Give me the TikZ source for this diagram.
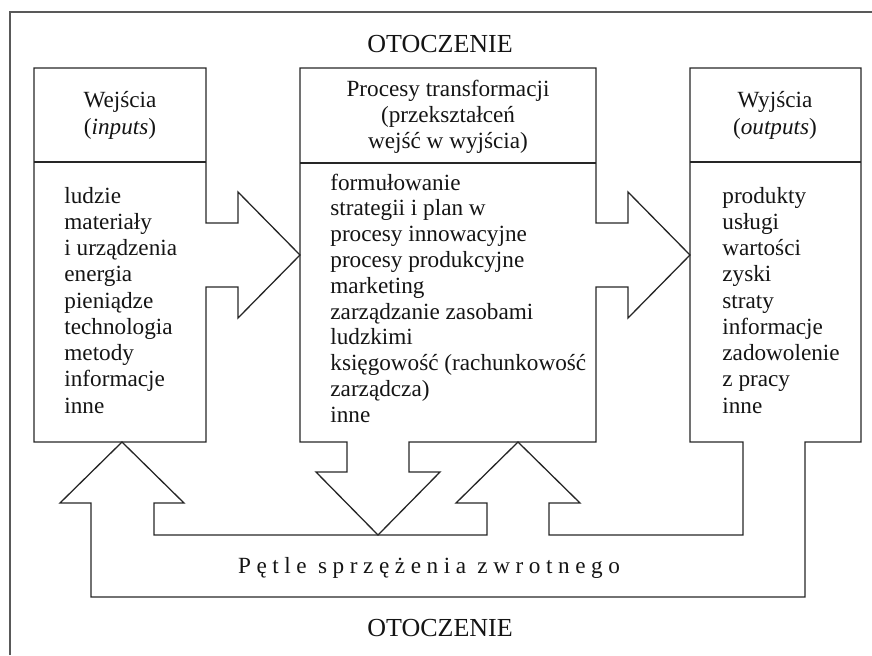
\documentclass[tikz,border=0pt]{standalone}
\usepackage{fontspec}
\setmainfont{Liberation Serif}
\begin{document}
\begin{tikzpicture}[x=0.5pt,y=-0.5pt,
  outline/.style={draw=black!85, line width=0.65pt, line join=miter},
  frame/.style={draw=black!65, line width=1pt},
  txt/.style={inner sep=0pt, text=black!92, font=\fontsize{11.6}{13}\selectfont},
  title/.style={inner sep=0pt, text=black!92, font=\fontsize{13}{15}\selectfont}]
\useasboundingbox (0,0) rectangle (872,655);

% environment frame (open to the right and below)
\draw[frame] (10,655) -- (10,12) -- (872,12);

% inputs box with its arrow into the process box
\draw[outline] (34,68) -- (206,68) -- (206,223) -- (238,223) -- (238,192)
  -- (300,255) -- (238,318) -- (238,287) -- (206,287) -- (206,442)
  -- (34,442) -- cycle;
\draw[outline] (34,162) -- (206,162);

% process box with its arrows to the outputs and down to the loop
\draw[outline] (300,68) -- (596,68) -- (596,223) -- (628,223) -- (628,192)
  -- (690,255) -- (628,318) -- (628,287) -- (596,287) -- (596,442)
  -- (409,442) -- (409,472) -- (440,472) -- (378,535) -- (316,472)
  -- (347,472) -- (347,442) -- (300,442) -- cycle;
\draw[outline] (300,163) -- (596,163);

% outputs box joined to the feedback ribbon
\draw[outline] (743,442) -- (690,442) -- (690,68) -- (861,68) -- (861,442)
  -- (805,442) -- (805,597) -- (91,597) -- (91,503) -- (60,503)
  -- (122,442) -- (184,503) -- (154,503) -- (154,535) -- (487,535)
  -- (487,503) -- (456,503) -- (518,442) -- (580,503) -- (549,503)
  -- (549,535) -- (743,535) -- cycle;
\draw[outline] (690,162) -- (861,162);

% titles
\node[title, anchor=base] (envtop) at (440,52) {OTOCZENIE};
\node[title, anchor=base] (envbot) at (440,636) {OTOCZENIE};

% box headers
\node[txt, anchor=base] (inh1) at (120,107) {Wejścia};
\node[txt, anchor=base] (inh2) at (120,134) {(\textit{inputs})};
\node[txt, anchor=base] (prh1) at (448,96) {Procesy transformacji};
\node[txt, anchor=base] (prh2) at (448,122) {(przekształceń};
\node[txt, anchor=base] (prh3) at (448,148) {wejść w wyjścia)};
\node[txt, anchor=base] (outh1) at (775,107) {Wyjścia};
\node[txt, anchor=base] (outh2) at (775,134) {(\textit{outputs})};

% box contents
\foreach \t [count=\i] in {ludzie, materiały, i urządzenia, energia,
    pieniądze, technologia, metody, informacje, inne}
  \node[txt, anchor=base west] (in\i) at (64,{203+26.25*(\i-1)}) {\t};
\foreach \t [count=\i] in {formułowanie, strategii i plan w,
    procesy innowacyjne, procesy produkcyjne, marketing,
    zarządzanie zasobami, ludzkimi, księgowość (rachunkowość,
    zarządcza), inne}
  \node[txt, anchor=base west] (pr\i) at (330,{190+25.8*(\i-1)}) {\t};
\foreach \t [count=\i] in {produkty, usługi, wartości, zyski, straty,
    informacje, zadowolenie, z pracy, inne}
  \node[txt, anchor=base west] (out\i) at (722,{203+26.25*(\i-1)}) {\t};

% feedback loop label
\node[txt, anchor=base] (loop) at (429,573)
  {\addfontfeature{LetterSpace=24}Pętle sprzężenia zwrotnego};
\end{tikzpicture}
\end{document}
